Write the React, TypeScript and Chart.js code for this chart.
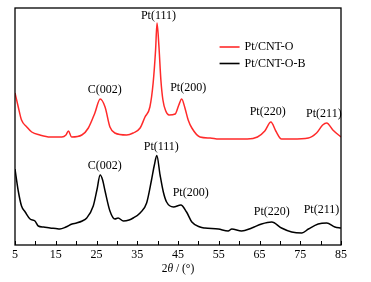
import React, { useEffect, useRef } from "react";
import { Chart, registerables } from "chart.js";

Chart.register(...registerables);

// ---- data ----
const seriesNames = ["Pt/CNT-O", "Pt/CNT-O-B"];
const seriesColors = ["#ff2a2a", "#000000"];

const redTheta = [5, 5.8, 6.6, 7.9, 9.1, 11.1, 13.6, 16.5, 17.5, 18.1, 18.9, 21.4, 23, 24.6, 25.9, 27.1, 28.3, 29.5, 32.4, 34, 35.7, 36.9, 38.1, 38.9, 39.5, 39.85, 40.3, 40.8, 41.3, 42.0, 42.8, 44.3, 45.2, 45.9, 46.7, 47.5, 48.4, 50.4, 52.9, 55, 58, 62, 64.5, 66.3, 67.8, 69.0, 70.4, 73, 77, 79, 80.5, 81.5, 83, 85];
const redIntensity = [152, 138, 125, 118, 113, 110, 108, 108, 110, 114, 108, 110, 117, 132, 146, 138, 118, 112, 110, 112, 117, 128, 138, 162, 195, 222, 200, 165, 145, 134, 130, 131, 140, 146, 137, 125, 117, 108, 107, 106, 106, 106, 108, 114, 123, 114, 106, 106, 107, 112, 120, 122, 115, 108];

const blackTheta = [5, 5.8, 6.6, 7.5, 8.7, 9.9, 10.7, 12, 13.6, 15, 16, 17.5, 19, 20.1, 21.5, 22.6, 24.2, 25.1, 25.9, 26.5, 27.1, 28.3, 29.5, 30.3, 31.6, 33, 34, 35.7, 37.3, 38.5, 39.2, 39.8, 40.6, 41.4, 42.2, 43.9, 45.7, 47.1, 48.4, 50.4, 51.6, 54.9, 57.3, 58.2, 60.6, 63.1, 65.5, 68, 70.4, 72.9, 75.4, 77, 79.4, 81.5, 83.5, 85];
const blackIntensity = [76, 54, 39, 33, 26, 24, 19, 18, 17, 16.5, 16, 18, 21, 22, 24, 27, 39, 55, 70, 65, 54, 34, 26, 27, 24, 25, 27, 32, 42, 65, 80, 89.5, 70, 53, 43, 38, 40, 33, 23, 18, 17, 16, 14, 16, 14, 17, 21, 23, 17, 13, 12, 16, 21, 22, 18, 17];

const xTickValues = [5, 15, 25, 35, 45, 55, 65, 75, 85];
const xTickMarks = [5, 10, 15, 20, 25, 30, 35, 40, 45, 50, 55, 60, 65, 70, 75, 80, 85];

const redPeakNames = ["C(002)", "Pt(111)", "Pt(200)", "Pt(220)", "Pt(211)"];
const redPeakTheta = [27.0, 40.2, 47.5, 67.0, 80.8];
const redPeakY = [155, 229, 157, 133, 131];

const blackPeakNames = ["C(002)", "Pt(111)", "Pt(200)", "Pt(220)", "Pt(211)"];
const blackPeakTheta = [27.0, 40.9, 48.1, 68.0, 80.2];
const blackPeakY = [79, 98, 52, 33, 35];

const FONT = '"Liberation Serif", "Times New Roman", serif';

const decorPlugin = {
  id: "decor",
  afterDraw(chart: any) {
    const { ctx, chartArea: a, scales } = chart;
    const x = scales.x;
    const y = scales.y;
    ctx.save();
    // frame
    ctx.strokeStyle = "#000";
    ctx.lineWidth = 1.3;
    ctx.strokeRect(a.left, a.top, a.right - a.left, a.bottom - a.top);
    // inward ticks
    ctx.lineWidth = 1;
    ctx.beginPath();
    xTickMarks.forEach((v) => {
      const px = Math.round(x.getPixelForValue(v)) + 0.5;
      ctx.moveTo(px, a.bottom);
      ctx.lineTo(px, a.bottom - 4);
    });
    ctx.stroke();
    // peak labels
    ctx.font = `12px ${FONT}`;
    ctx.textAlign = "center";
    ctx.textBaseline = "middle";
    ctx.fillStyle = "#000";
    redPeakNames.forEach((t, i) => {
      ctx.fillText(t, x.getPixelForValue(redPeakTheta[i]), y.getPixelForValue(redPeakY[i]));
    });
    blackPeakNames.forEach((t, i) => {
      ctx.fillText(t, x.getPixelForValue(blackPeakTheta[i]), y.getPixelForValue(blackPeakY[i]));
    });
    // legend
    const lx = x.getPixelForValue(55.2);
    const ly0 = a.top + 39;
    seriesNames.forEach((name, i) => {
      const ly = ly0 + i * 16.5;
      ctx.strokeStyle = seriesColors[i];
      ctx.lineWidth = 1.6;
      ctx.beginPath();
      ctx.moveTo(lx, ly);
      ctx.lineTo(lx + 20, ly);
      ctx.stroke();
      ctx.textAlign = "left";
      ctx.fillStyle = "#000";
      ctx.fillText(name, lx + 25, ly);
    });
    // axis title: 2θ / (°)
    const parts: [string, string][] = [
      ["2", `11.5px ${FONT}`],
      ["θ", `italic 11.5px ${FONT}`],
      [" / (°)", `11.5px ${FONT}`],
    ];
    let total = 0;
    parts.forEach(([t, f]) => {
      ctx.font = f;
      total += ctx.measureText(t).width;
    });
    let tx = (a.left + a.right) / 2 - total / 2;
    const ty = a.bottom + 24;
    ctx.textAlign = "left";
    parts.forEach(([t, f]) => {
      ctx.font = f;
      ctx.fillText(t, tx, ty);
      tx += ctx.measureText(t).width;
    });
    ctx.restore();
  },
};

export default function App() {
  const ref = useRef<HTMLCanvasElement | null>(null);
  useEffect(() => {
    document.body.style.margin = "0";
    const canvas = ref.current;
    if (!canvas) return;
    const chart = new Chart(canvas, {
      type: "line",
      data: {
        datasets: [
          {
            label: seriesNames[0],
            data: redTheta.map((t, i) => ({ x: t, y: redIntensity[i] })),
            borderColor: seriesColors[0],
            borderWidth: 1.5,
            pointRadius: 0,
            tension: 0.35,
            cubicInterpolationMode: "monotone",
            fill: false,
          },
          {
            label: seriesNames[1],
            data: blackTheta.map((t, i) => ({ x: t, y: blackIntensity[i] })),
            borderColor: seriesColors[1],
            borderWidth: 1.5,
            pointRadius: 0,
            tension: 0.35,
            cubicInterpolationMode: "monotone",
            fill: false,
          },
        ],
      },
      options: {
        responsive: false,
        animation: false,
        layout: { padding: { left: 0, right: 30, top: 8, bottom: 0 } },
        plugins: { legend: { display: false }, tooltip: { enabled: false } },
        scales: {
          x: {
            type: "linear",
            min: 5,
            max: 85,
            grid: { display: false, drawTicks: false },
            border: { display: false },
            afterBuildTicks: (s: any) => {
              s.ticks = xTickValues.map((v) => ({ value: v }));
            },
            afterFit: (s: any) => {
              s.height = 37;
            },
            ticks: {
              padding: 3,
              color: "#000",
              font: { family: FONT, size: 12 },
              maxRotation: 0,
            },
          },
          y: {
            min: 0,
            max: 237,
            grid: { display: false, drawTicks: false },
            border: { display: false },
            ticks: { display: false },
            afterFit: (s: any) => {
              s.width = 15;
            },
          },
        },
      },
      plugins: [decorPlugin],
    } as any);
    return () => chart.destroy();
  }, []);
  return (
    <div style={{ width: 371, height: 282, background: "#fff" }}>
      <canvas ref={ref} width={371} height={282} />
    </div>
  );
}
